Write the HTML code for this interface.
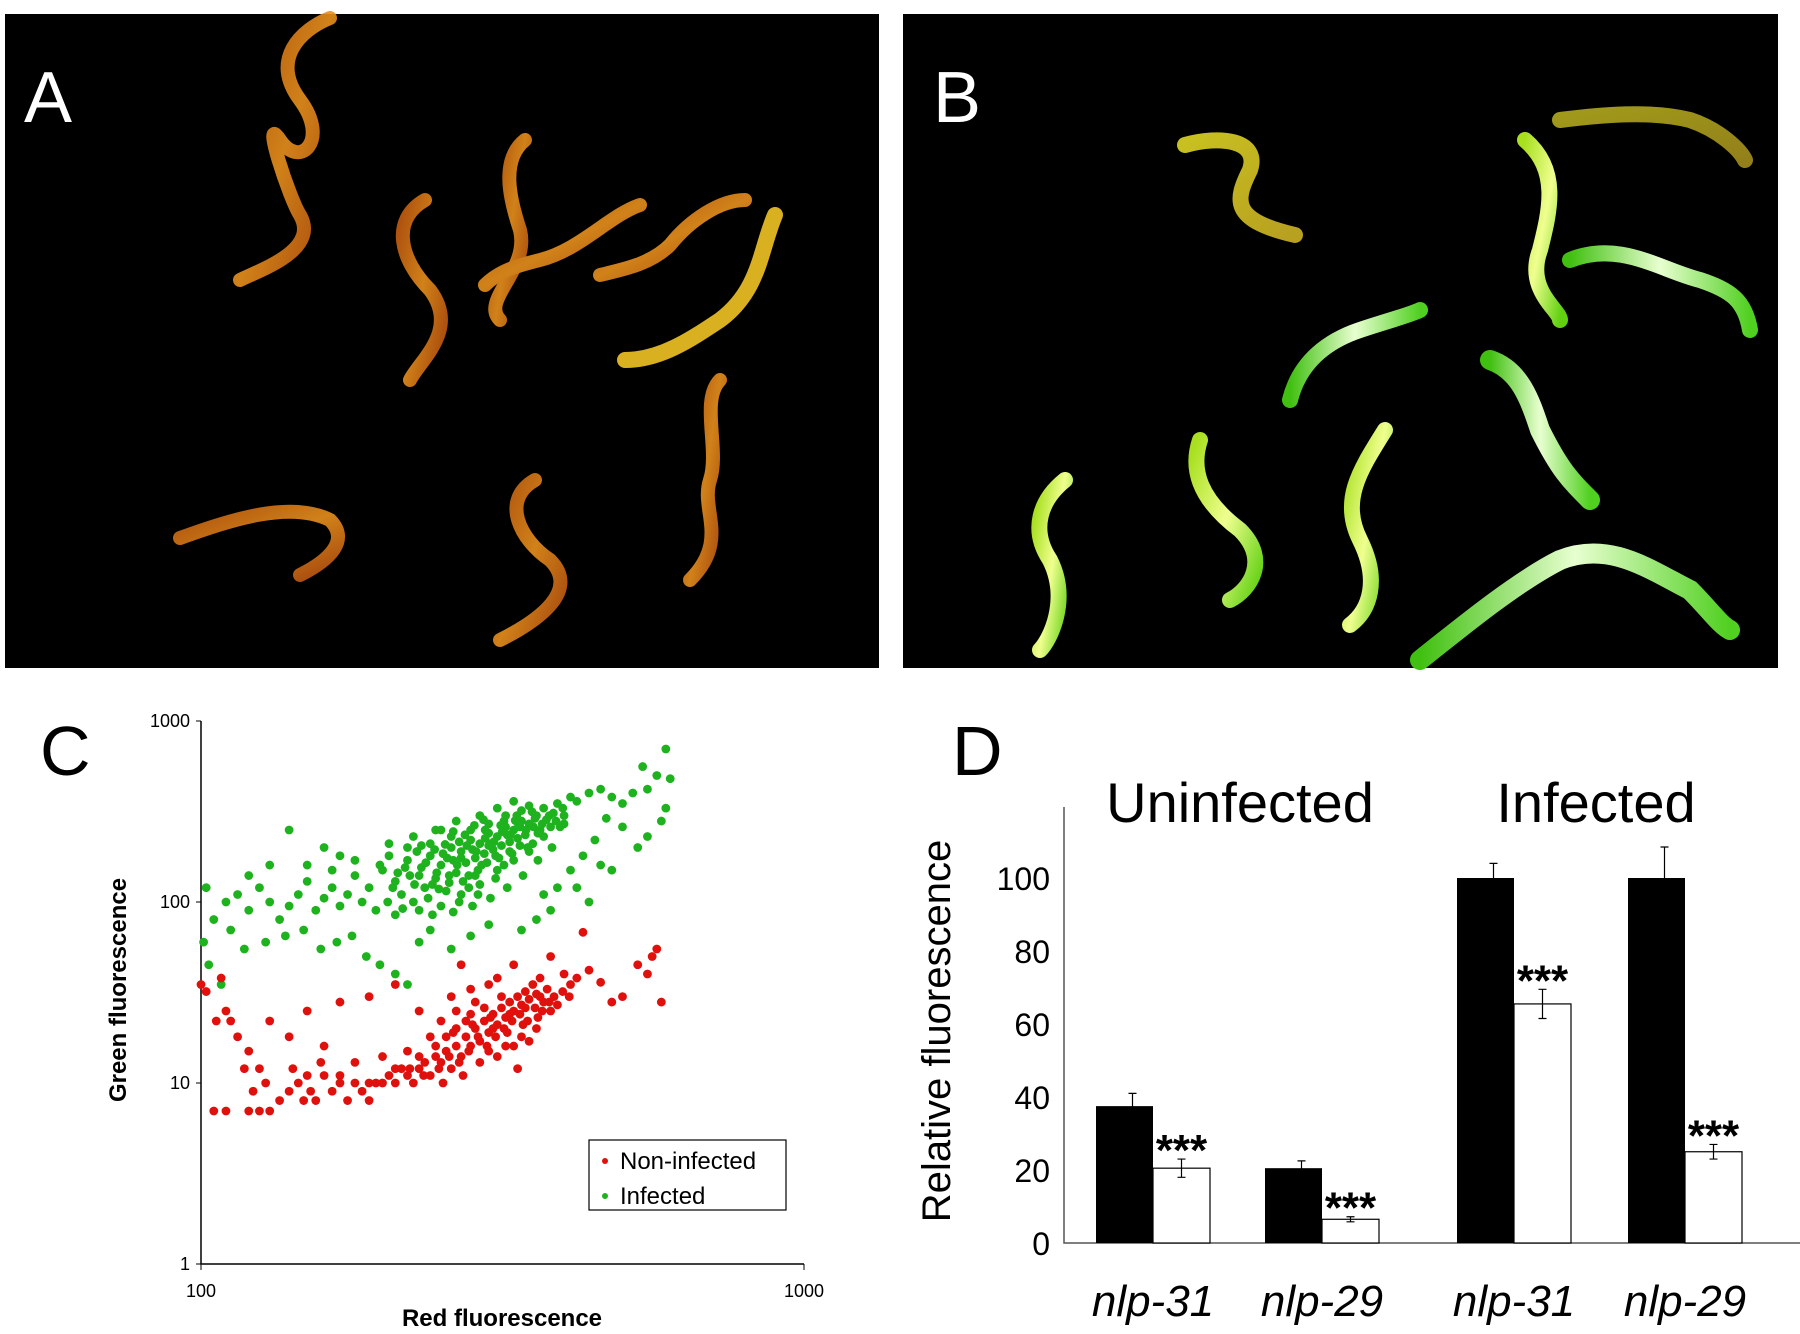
<!DOCTYPE html>
<html><head><meta charset="utf-8"><style>
body{margin:0;background:#fff;width:1800px;height:1334px;overflow:hidden;font-family:"Liberation Sans",sans-serif}
svg{display:block}
</style></head><body>
<svg id="fig" width="1800" height="1334" viewBox="0 0 1800 1334">
<defs>
<linearGradient id="ga" x1="0" y1="0" x2="1" y2="1"><stop offset="0" stop-color="#c05a10"/><stop offset="0.5" stop-color="#e8901c"/><stop offset="1" stop-color="#b85010"/></linearGradient>
<linearGradient id="gy" x1="0" y1="0" x2="1" y2="1"><stop offset="0" stop-color="#c8c020"/><stop offset="1" stop-color="#b8a020"/></linearGradient>
<linearGradient id="gb" x1="0" y1="0" x2="1" y2="1"><stop offset="0" stop-color="#a8e020"/><stop offset="0.5" stop-color="#f0ff90"/><stop offset="1" stop-color="#60d010"/></linearGradient>
<linearGradient id="gb2" x1="0" y1="0" x2="1" y2="0"><stop offset="0" stop-color="#40c010"/><stop offset="0.5" stop-color="#e8ffd0"/><stop offset="1" stop-color="#50d020"/></linearGradient>
</defs>
<g>
<rect x="5" y="14" width="874" height="654" fill="#000"/>
<g fill="none" stroke-linecap="round" stroke="url(#ga)" stroke-width="14" opacity="0.9">
<path d="M330,18 C300,30 270,60 300,100 C330,140 300,170 280,140 C260,110 290,200 300,215 C320,250 260,270 240,280"/>
<path d="M425,200 C390,220 400,260 430,290 C460,330 420,360 410,380"/>
<path d="M525,140 C500,160 510,200 520,230 C530,270 480,300 500,320"/>
<path d="M640,205 C610,215 580,250 540,260 C520,265 500,270 485,285"/>
<path d="M745,200 C720,200 690,220 670,245 C650,265 620,270 600,275"/>
<path d="M720,380 C700,400 720,450 710,480 C700,510 730,540 690,580"/>
<path d="M180,538 C230,520 290,500 330,520 C350,540 330,560 300,575"/>
<path d="M535,480 C500,500 520,540 550,560 C580,590 540,620 500,640"/>
</g>
<path d="M775,215 C760,250 760,290 720,320 C690,340 660,360 625,360" fill="none" stroke="#d8b020" stroke-width="16" stroke-linecap="round"/>
<text x="24" y="122" font-size="72" fill="#fff">A</text>
</g>
<g>
<rect x="903" y="14" width="875" height="654" fill="#000"/>
<g fill="none" stroke-linecap="round" stroke-width="16">
<path d="M1185,145 C1220,135 1260,140 1250,170 C1235,200 1230,220 1295,235" stroke="url(#gy)"/>
<path d="M1560,120 C1600,115 1650,110 1690,120 C1720,130 1740,150 1745,160" stroke="url(#gy)" opacity="0.8"/>
<path d="M1525,140 C1560,170 1550,210 1540,250 C1525,290 1560,310 1560,320" stroke="url(#gb)"/>
<path d="M1570,260 C1620,240 1660,270 1700,280 C1730,290 1745,300 1750,330" stroke="url(#gb2)"/>
<path d="M1290,400 C1300,360 1330,340 1360,330 C1390,320 1410,315 1420,310" stroke="url(#gb2)"/>
<path d="M1490,360 C1520,370 1530,400 1540,430 C1560,470 1570,480 1590,500" stroke="url(#gb2)" stroke-width="20"/>
<path d="M1065,480 C1040,500 1030,530 1050,560 C1070,600 1050,640 1040,650" stroke="url(#gb)"/>
<path d="M1200,440 C1190,470 1200,500 1240,530 C1270,560 1250,590 1230,600" stroke="url(#gb)"/>
<path d="M1385,430 C1360,470 1340,500 1360,540 C1380,580 1370,610 1350,625" stroke="url(#gb)"/>
<path d="M1420,660 C1470,620 1520,580 1560,560 C1610,540 1650,570 1690,590 C1710,610 1720,625 1730,630" stroke="url(#gb2)" stroke-width="20"/>
</g>
<text x="933" y="122" font-size="72" fill="#fff">B</text>
</g>
<g id="panelC">
<text x="40" y="775" font-size="70" fill="#000">C</text>
</g>
<g id="panelD">
<text x="952" y="775" font-size="70" fill="#000">D</text>
</g>
</svg>
<script>
const NS='http://www.w3.org/2000/svg';
// Panel C data
const xTicksC=[100,1000];
const yTicksC=[1,10,100,1000];
const greenPts=[[200,150],[210,130],[220,170],[230,140],[240,180],[250,160],[260,200],[270,190],[280,220],[290,210],[300,240],[310,230],[320,260],[330,250],[340,280],[350,270],[215,110],[225,100],[235,120],[245,135],[255,115],[265,145],[275,165],[285,175],[295,185],[305,195],[315,205],[325,215],[335,225],[345,235],[205,180],[220,200],[240,210],[260,230],[280,250],[300,270],[320,300],[340,320],[360,300],[230,90],[250,95],[270,110],[290,125],[310,150],[330,170],[350,190],[370,230],[380,260],[190,120],[185,100],[195,90],[210,85],[180,140],[175,110],[170,95],[165,120],[160,105],[155,90],[150,130],[145,110],[140,95],[135,80],[130,100],[125,120],[120,90],[115,110],[110,100],[105,80],[102,120],[101,60],[103,45],[108,35],[112,70],[118,55],[128,60],[138,65],[148,70],[158,55],[168,60],[178,65],[188,50],[198,45],[210,40],[220,35],[230,60],[240,70],[260,55],[280,65],[300,75],[250,250],[265,280],[290,300],[310,330],[330,360],[350,340],[370,330],[390,350],[400,300],[410,380],[420,360],[440,400],[460,420],[480,380],[500,350],[520,400],[550,420],[570,500],[600,480],[580,280],[590,330],[550,230],[530,200],[500,260],[470,290],[450,220],[430,180],[410,150],[390,120],[380,90],[360,80],[340,70],[370,110],[420,120],[440,100],[480,150],[460,160],[140,250],[150,160],[160,200],[170,180],[130,160],[120,140],[540,560],[590,700],[400,270],[365,250],[355,210],[325,190],[285,140],[245,250],[225,230],[205,210],[180,170],[165,150],[232,155],[242,125],[262,170],[272,130],[282,195],[292,160],[302,210],[312,175],[322,235],[212,145],[252,185],[268,215],[296,250],[318,280],[338,260],[358,290],[378,300],[398,330],[228,190],[258,140],[288,150],[308,180],[198,160],[238,105],[278,120],[348,200],[368,270],[388,280],[226,125],[236,165],[246,145],[256,175],[266,160],[276,205],[286,190],[296,225],[306,215],[316,245],[326,235],[336,270],[346,250],[356,260],[248,118],[258,128],[268,100],[278,140],[288,110],[298,165],[308,135],[318,160],[328,185],[338,205],[232,205],[244,195],[262,245],[274,235],[284,265],[294,285],[314,265],[334,300],[354,315],[374,285],[218,155],[208,120],[222,140],[254,208],[270,175],[300,205],[332,282],[362,240],[384,310],[394,260],[204,100],[216,92],[242,85],[262,88],[282,95],[302,105],[322,120],[342,140],[362,170],[382,200]];
const redPts=[[100,35],[102,32],[106,22],[108,38],[110,25],[112,22],[115,18],[118,12],[120,15],[122,9],[125,12],[128,10],[130,7],[105,7],[110,7],[120,7],[125,7],[135,8],[140,9],[142,12],[145,10],[148,8],[150,11],[152,9],[155,8],[158,13],[160,11],[165,9],[170,10],[175,8],[180,10],[185,9],[190,8],[195,10],[200,10],[205,11],[210,10],[215,12],[220,11],[225,10],[230,12],[235,13],[240,11],[245,14],[250,13],[255,15],[260,12],[265,16],[270,14],[275,18],[280,16],[285,20],[290,17],[295,22],[300,19],[305,24],[310,21],[315,26],[320,23],[325,28],[330,25],[335,30],[340,27],[345,32],[350,29],[355,35],[360,31],[365,38],[370,28],[375,33],[380,25],[385,30],[390,27],[400,40],[410,35],[420,38],[440,42],[460,36],[480,28],[500,30],[530,45],[560,50],[570,55],[580,28],[550,40],[430,68],[250,22],[265,20],[280,24],[300,15],[320,16],[340,18],[360,20],[240,18],[220,15],[200,14],[180,13],[160,16],[140,18],[130,22],[150,25],[170,28],[190,30],[210,35],[230,25],[260,30],[280,33],[300,35],[270,45],[330,45],[380,50],[310,38],[335,12],[255,18],[275,22],[295,26],[315,30],[285,28],[305,20],[325,24],[345,26],[365,30],[245,16],[265,25],[210,12],[230,14],[190,10],[170,11],[248,12],[258,14],[268,13],[278,15],[288,18],[298,16],[308,18],[318,20],[328,22],[338,24],[348,22],[358,26],[368,25],[378,28],[398,32],[408,30],[222,12],[234,11],[252,10],[272,11],[290,13],[310,14],[330,16],[350,17],[262,19],[282,21],[302,23],[322,19],[342,21],[362,23]];
const cx=v=>201+Math.log10(v/100)*603;
const cy=v=>1264-Math.log10(v)*181;
const gC=document.getElementById('panelC');
function mk(tag,attrs,parent){const e=document.createElementNS(NS,tag);for(const k in attrs)e.setAttribute(k,attrs[k]);parent.appendChild(e);return e;}
let ax=mk('path',{d:`M201,${cy(1000)}V1264H${cx(1000)}`,fill:'none',stroke:'#000','stroke-width':1.5},gC);


yTicksC.forEach(t=>{
 const l=mk('line',{x1:196,x2:201,y1:cy(t),y2:cy(t),stroke:'#000'},gC);
 
 
 const tx=mk('text',{x:190,y:cy(t)+6,'font-size':18,'text-anchor':'end'},gC);tx.textContent=t;
 
 
});
xTicksC.forEach(t=>{
 const l=mk('line',{x1:cx(t),x2:cx(t),y1:1264,y2:1270,stroke:'#000'},gC);
 
 
 const tx=mk('text',{x:cx(t),y:1297,'font-size':18,'text-anchor':'middle'},gC);tx.textContent=t;
 
 
});
greenPts.forEach(p=>{const c=mk('circle',{cx:cx(p[0]),cy:cy(p[1]),r:4.4,fill:'#1eb21e'},gC);
 
 });
redPts.forEach(p=>{const c=mk('circle',{cx:cx(p[0]),cy:cy(p[1]),r:4.4,fill:'#e0100c'},gC);
 
 });
let t1=mk('text',{x:502,y:1326,'font-size':24,'font-weight':'bold','text-anchor':'middle'},gC);t1.textContent='Red fluorescence';


let t2=mk('text',{x:0,y:0,'font-size':24,'font-weight':'bold','text-anchor':'middle',transform:'translate(126,990) rotate(-90)'},gC);t2.textContent='Green fluorescence';


let lg=mk('g',{},gC);


mk('rect',{x:589,y:1140,width:197,height:70,fill:'#fff',stroke:'#000','stroke-width':1.2},lg);
mk('circle',{cx:605,cy:1161,r:3,fill:'#e0100c'},lg);
mk('circle',{cx:605,cy:1196,r:3,fill:'#1eb21e'},lg);
let l1=mk('text',{x:620,y:1169,'font-size':24},lg);l1.textContent='Non-infected';


let l2=mk('text',{x:620,y:1204,'font-size':24},lg);l2.textContent='Infected';



// Panel D data
const genes=['nlp-31','nlp-29','nlp-31','nlp-29'];
const groups=['Uninfected','Infected'];
const blackVals=[37.5,20.5,100,100];
const blackErr=[3.5,2,4,8.5];
const whiteVals=[20.5,6.5,65.5,25];
const whiteErr=[2.5,0.7,4,2];
const yTicksD=[0,20,40,60,80,100];
const gD=document.getElementById('panelD');
const dy=v=>1243-v*3.65;
const barLeft=[1096,1265,1457,1628];
const bw=57;
let dax=mk('path',{d:'M1064,807V1243H1800',fill:'none',stroke:'#555','stroke-width':1.5},gD);


yTicksD.forEach(t=>{const tx=mk('text',{x:1050,y:dy(t)+12,'font-size':32,'text-anchor':'end'},gD);tx.textContent=t;
 
 });
function err(x,v,e){const p=mk('path',{d:`M${x},${dy(v)}V${dy(v+e)}M${x-4},${dy(v+e)}H${x+4}M${x},${dy(v)}V${dy(v-e)}M${x-4},${dy(v-e)}H${x+4}`,stroke:'#000','stroke-width':1.2,fill:'none'},gD);
 
 }
genes.forEach((g,i)=>{
 const x0=barLeft[i];
 const b=mk('rect',{x:x0,y:dy(blackVals[i]),width:bw,height:dy(0)-dy(blackVals[i]),fill:'#000'},gD);
 
 
 const w=mk('rect',{x:x0+bw,y:dy(whiteVals[i]),width:bw,height:dy(0)-dy(whiteVals[i]),fill:'#fff',stroke:'#000','stroke-width':1.2},gD);
 
 
 err(x0+bw/2+8,blackVals[i],blackErr[i]);
 err(x0+bw*1.5,whiteVals[i],whiteErr[i]);
 const s=mk('text',{x:x0+bw*1.5,y:dy(whiteVals[i]+whiteErr[i])+6,'font-size':44,'font-weight':'bold','text-anchor':'middle'},gD);s.textContent='***';
 
 
 const gl=mk('text',{x:x0+bw,y:1316,'font-size':44,'font-style':'italic','text-anchor':'middle'},gD);gl.textContent=g;
 
 
});
[[1240,groups[0]],[1596,groups[1]]].forEach(p=>{const t=mk('text',{x:p[0],y:822,'font-size':56,'text-anchor':'middle'},gD);t.textContent=p[1];
 
 });
let yl=mk('text',{x:0,y:0,'font-size':40,'text-anchor':'middle',transform:'translate(950,1031) rotate(-90)'},gD);yl.textContent='Relative fluorescence';


</script>
</body></html>
